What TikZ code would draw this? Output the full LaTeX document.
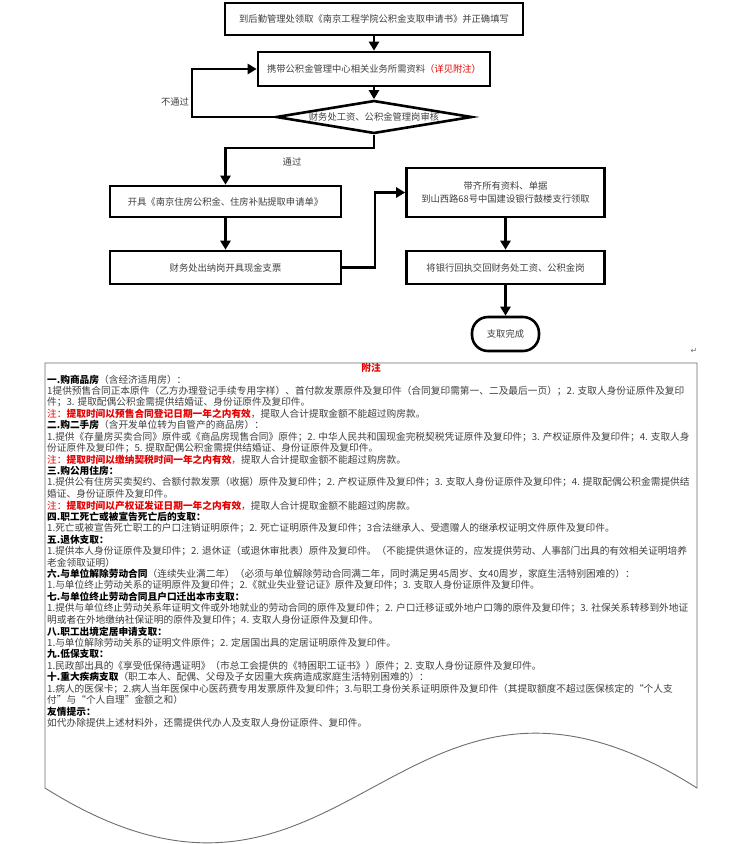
\documentclass[tikz,border=0pt]{standalone}
\usepackage{fontspec}
\setmainfont{Noto Sans CJK SC}
\newfontfamily\dejavu{DejaVu Sans}
\usetikzlibrary{arrows.meta,shapes.geometric}
\definecolor{txtgray}{HTML}{404040}
\definecolor{notered}{HTML}{E60000}
\definecolor{bordergray}{HTML}{6E6E6E}
\newcommand\noteL[2]{\node[noteline] (n#1) at (47,{379.5+(#1-1)*11.45}) {#2};}
\newcommand\hd[1]{\textcolor{black}{\bfseries #1}}
\newcommand\rd[1]{\textcolor{notered}{#1}}
\begin{document}
\begin{tikzpicture}[x=1pt,y=-1pt,
  flowbox/.style={draw=black,line width=2.6pt,rectangle,inner sep=0pt,
    font=\fontsize{9.3}{13}\selectfont,text=txtgray,align=center},
  conn/.style={draw=black,line width=2.6pt,-{Triangle[length=9pt,width=10pt]}},
  noteline/.style={anchor=west,inner sep=0pt,font=\fontsize{9.7}{11}\selectfont,text=txtgray},
  lbl/.style={inner sep=0pt,font=\fontsize{9.3}{11}\selectfont,text=txtgray}]
\useasboundingbox (0,0) rectangle (751,844);
\fill[white] (0,0) rectangle (751,844);

% flowchart
\node[flowbox,minimum width=298pt,minimum height=32pt] (b1) at (374,19)
  {到后勤管理处领取《南京工程学院公积金支取申请书》并正确填写};
\node[flowbox,minimum width=232pt,minimum height=34pt] (b2) at (374,69)
  {携带公积金管理中心相关业务所需资料\textcolor{notered}{（详见附注）}};
\node[draw=black,line width=2.6pt,shape=diamond,aspect=6,inner sep=0pt,
  minimum width=196pt,minimum height=33pt,font=\fontsize{9.3}{11}\selectfont,text=txtgray] (dia) at (374,117)
  {财务处工资、公积金管理岗审核};
\node[flowbox,minimum width=231pt,minimum height=31pt] (b3) at (225.5,201.5)
  {开具《南京住房公积金、住房补贴提取申请单》};
\node[flowbox,minimum width=231pt,minimum height=33pt] (b4) at (225.5,267.5)
  {财务处出纳岗开具现金支票};
\node[flowbox,minimum width=198pt,minimum height=49pt] (b5) at (505.5,192.5)
  {带齐所有资料、单据\\到山西路68号中国建设银行鼓楼支行领取};
\node[flowbox,minimum width=198pt,minimum height=33pt] (b6) at (505.5,267.5)
  {将银行回执交回财务处工资、公积金岗};
\node[flowbox,minimum width=67pt,minimum height=34pt,rounded corners=16pt] (term) at (505.5,334)
  {支取完成};

\coordinate (lp) at (192,117);
\coordinate (pj) at (374,148);
\coordinate (mj) at (375,267.5);
\draw[conn] (b1) -- (b2);
\draw[conn] (b2) -- (dia);
\draw[conn] (dia.west) -- (lp) |- (b2.west);
\draw[conn] (dia.south) -- (pj) -| (b3.north);
\draw[conn] (b3) -- (b4);
\draw[conn] (b4.east) -- (mj) |- (b5.west);
\draw[conn] (b5) -- (b6);
\draw[conn] (b6) -- (term);
\node[lbl] (nopass) at (175,102) {不通过};
\node[lbl] (pass) at (292,162) {通过};
\node[inner sep=0pt,text=bordergray,font=\dejavu\fontsize{8}{9}\selectfont] (ret) at (694,351) {↵};

% notes
\draw[bordergray,line width=0.9pt] (45,788) -- (45,363) -- (697,363) -- (697,788)
  .. controls (397,598) and (347,978) .. (45,788) -- cycle;
\node[inner sep=0pt,text=notered,font=\bfseries\fontsize{9.7}{11}\selectfont] (fz) at (371,368) {附注};
\noteL{1}{\hd{一.购商品房}（含经济适用房）：}
\noteL{2}{1提供预售合同正本原件（乙方办理登记手续专用字样）、首付款发票原件及复印件（合同复印需第一、二及最后一页）；2. 支取人身份证原件及复印}
\noteL{3}{件；3. 提取配偶公积金需提供结婚证、身份证原件及复印件。}
\noteL{4}{\rd{注：}\rd{\bfseries 提取时间以预售合同登记日期一年之内有效}\rd{，}提取人合计提取金额不能超过购房款。}
\noteL{5}{\hd{二.购二手房}（含开发单位转为自管产的商品房）：}
\noteL{6}{1.提供《存量房买卖合同》原件或《商品房现售合同》原件；2. 中华人民共和国现金完税契税凭证原件及复印件；3. 产权证原件及复印件；4. 支取人身}
\noteL{7}{份证原件及复印件；5. 提取配偶公积金需提供结婚证、身份证原件及复印件。}
\noteL{8}{\rd{注：}\rd{\bfseries 提取时间以缴纳契税时间一年之内有效}\rd{，}提取人合计提取金额不能超过购房款。}
\noteL{9}{\hd{三.购公用住房：}}
\noteL{10}{1.提供公有住房买卖契约、合额付款发票（收据）原件及复印件；2. 产权证原件及复印件；3. 支取人身份证原件及复印件；4. 提取配偶公积金需提供结}
\noteL{11}{婚证、身份证原件及复印件。}
\noteL{12}{\rd{注：}\rd{\bfseries 提取时间以产权证发证日期一年之内有效}\rd{，}提取人合计提取金额不能超过购房款。}
\noteL{13}{\hd{四.职工死亡或被宣告死亡后的支取：}}
\noteL{14}{1.死亡或被宣告死亡职工的户口注销证明原件；2. 死亡证明原件及复印件；3合法继承人、受遗赠人的继承权证明文件原件及复印件。}
\noteL{15}{\hd{五.退休支取：}}
\noteL{16}{1.提供本人身份证原件及复印件；2. 退休证（或退休审批表）原件及复印件。（不能提供退休证的，应发提供劳动、人事部门出具的有效相关证明培养}
\noteL{17}{老金领取证明）}
\noteL{18}{\hd{六.与单位解除劳动合同}（连续失业满二年）（必须与单位解除劳动合同满二年，同时满足男45周岁、女40周岁，家庭生活特别困难的）：}
\noteL{19}{1.与单位终止劳动关系的证明原件及复印件；2.《就业失业登记证》原件及复印件；3. 支取人身份证原件及复印件。}
\noteL{20}{\hd{七.与单位终止劳动合同且户口迁出本市支取：}}
\noteL{21}{1.提供与单位终止劳动关系年证明文件或外地就业的劳动合同的原件及复印件；2. 户口迁移证或外地户口簿的原件及复印件；3. 社保关系转移到外地证}
\noteL{22}{明或者在外地缴纳社保证明的原件及复印件；4. 支取人身份证原件及复印件。}
\noteL{23}{\hd{八.职工出境定居申请支取：}}
\noteL{24}{1.与单位解除劳动关系的证明文件原件；2. 定居国出具的定居证明原件及复印件。}
\noteL{25}{\hd{九.低保支取：}}
\noteL{26}{1.民政部出具的《享受低保待遇证明》（市总工会提供的《特困职工证书》）原件；2. 支取人身份证原件及复印件。}
\noteL{27}{\hd{十.重大疾病支取}（职工本人、配偶、父母及子女因重大疾病造成家庭生活特别困难的）：}
\noteL{28}{1.病人的医保卡；2.病人当年医保中心医药费专用发票原件及复印件；3.与职工身份关系证明原件及复印件（其提取额度不超过医保核定的“个人支}
\noteL{29}{付”与“个人自理”金额之和）}
\noteL{30}{\hd{友情提示：}}
\noteL{31}{如代办除提供上述材料外，还需提供代办人及支取人身份证原件、复印件。}
\end{tikzpicture}
\end{document}
